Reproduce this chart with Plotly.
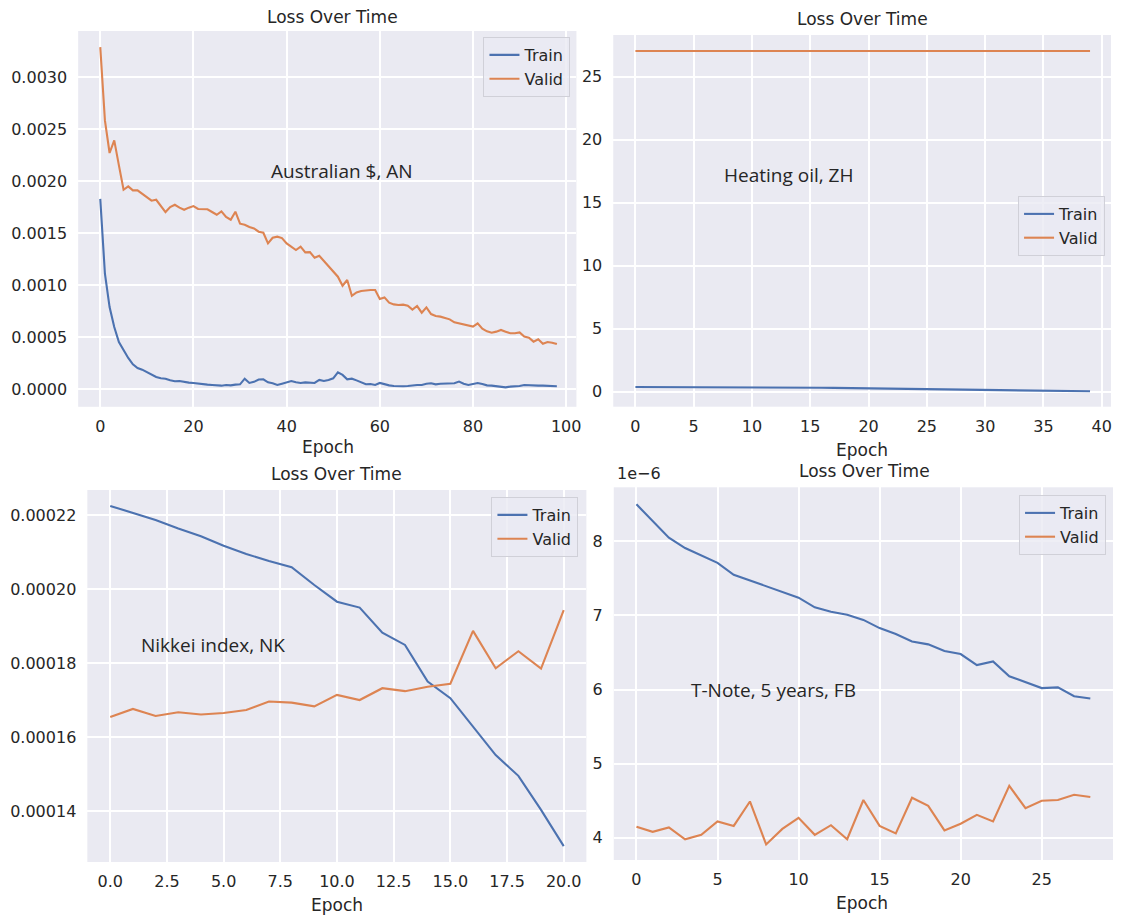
import plotly.graph_objects as go

# ---------------- data ----------------
aus_epochs = list(range(99))
aus_train = [0.001830, 0.001110, 0.000790, 0.000598, 0.000454, 0.000374, 0.000301, 0.000240, 0.000205, 0.000189,
             0.000166, 0.000141, 0.000118, 0.000106, 0.000102, 0.000086, 0.000077, 0.000080, 0.000070, 0.000064,
             0.000061, 0.000054, 0.000051, 0.000045, 0.000042, 0.000038, 0.000035, 0.000042, 0.000038, 0.000045,
             0.000048, 0.000102, 0.000061, 0.000072, 0.000094, 0.000096, 0.000067, 0.000058, 0.000042, 0.000054,
             0.000064, 0.000080, 0.000067, 0.000061, 0.000067, 0.000061, 0.000061, 0.000090, 0.000080, 0.000090,
             0.000106, 0.000163, 0.000138, 0.000096, 0.000102, 0.000086, 0.000067, 0.000048, 0.000051, 0.000042,
             0.000061, 0.000048, 0.000038, 0.000032, 0.000029, 0.000029, 0.000032, 0.000038, 0.000042, 0.000042,
             0.000054, 0.000058, 0.000048, 0.000054, 0.000054, 0.000051, 0.000058, 0.000074, 0.000054, 0.000042,
             0.000051, 0.000061, 0.000051, 0.000038, 0.000035, 0.000032, 0.000026, 0.000019, 0.000026, 0.000026,
             0.000032, 0.000042, 0.000038, 0.000035, 0.000035, 0.000035, 0.000032, 0.000032, 0.000029]
aus_valid = [0.003287, 0.002583, 0.002270, 0.002391, 0.002151, 0.001917, 0.001949, 0.001911, 0.001911, 0.001879,
             0.001847, 0.001812, 0.001821, 0.001760, 0.001703, 0.001751, 0.001773, 0.001745, 0.001725, 0.001745,
             0.001760, 0.001732, 0.001729, 0.001729, 0.001703, 0.001677, 0.001709, 0.001655, 0.001629, 0.001706,
             0.001591, 0.001581, 0.001559, 0.001546, 0.001514, 0.001504, 0.001402, 0.001456, 0.001466, 0.001453,
             0.001402, 0.001370, 0.001338, 0.001370, 0.001315, 0.001318, 0.001264, 0.001283, 0.001235, 0.001178,
             0.001139, 0.001082, 0.000995, 0.001050, 0.000899, 0.000931, 0.000944, 0.000950, 0.000954, 0.000954,
             0.000867, 0.000883, 0.000832, 0.000816, 0.000810, 0.000813, 0.000803, 0.000765, 0.000800, 0.000736,
             0.000787, 0.000723, 0.000704, 0.000698, 0.000682, 0.000672, 0.000643, 0.000634, 0.000618, 0.000614,
             0.000602, 0.000634, 0.000582, 0.000557, 0.000544, 0.000554, 0.000570, 0.000554, 0.000538, 0.000538,
             0.000547, 0.000506, 0.000496, 0.000458, 0.000480, 0.000438, 0.000454, 0.000448, 0.000435]

oil_epochs = list(range(40))
oil_train = [0.37, 0.37, 0.37, 0.37, 0.37, 0.37, 0.37, 0.36, 0.36, 0.36,
             0.36, 0.35, 0.35, 0.34, 0.33, 0.32, 0.31, 0.30, 0.29, 0.28,
             0.27, 0.26, 0.24, 0.23, 0.21, 0.19, 0.18, 0.17, 0.15, 0.14,
             0.13, 0.12, 0.11, 0.10, 0.09, 0.08, 0.07, 0.05, 0.04, 0.03]
oil_valid = [27.03, 27.03, 27.02, 27.03, 27.03, 27.03, 27.03, 27.03, 27.03, 27.02,
             27.03, 27.03, 27.02, 27.02, 27.01, 27.00, 27.01, 27.02, 27.01, 26.99,
             26.98, 27.00, 27.01, 27.02, 27.02, 27.03, 27.03, 27.03, 27.03, 27.02,
             27.02, 27.03, 27.03, 27.03, 27.03, 27.02, 27.03, 27.03, 27.03, 27.03]

nk_epochs = list(range(21))
nk_train = [0.0002225, 0.0002206, 0.0002187, 0.0002164, 0.0002143, 0.0002117, 0.0002095, 0.0002076, 0.0002059, 0.0002011,
            0.0001966, 0.0001950, 0.0001882, 0.0001849, 0.0001750, 0.0001705, 0.0001628, 0.0001551, 0.0001495, 0.0001403,
            0.0001305]
nk_valid = [0.0001654, 0.0001676, 0.0001657, 0.0001667, 0.0001661, 0.0001665, 0.0001673, 0.0001696, 0.0001693, 0.0001683,
            0.0001714, 0.0001700, 0.0001732, 0.0001724, 0.0001736, 0.0001744, 0.0001887, 0.0001786, 0.0001832, 0.0001785,
            0.0001943]

fb_epochs = list(range(29))
fb_train = [8.50e-6, 8.28e-6, 8.05e-6, 7.91e-6, 7.81e-6, 7.71e-6, 7.55e-6, 7.47e-6, 7.39e-6, 7.32e-6,
            7.24e-6, 7.11e-6, 7.05e-6, 7.01e-6, 6.94e-6, 6.83e-6, 6.75e-6, 6.65e-6, 6.61e-6, 6.52e-6,
            6.48e-6, 6.33e-6, 6.38e-6, 6.18e-6, 6.10e-6, 6.02e-6, 6.03e-6, 5.91e-6, 5.88e-6]
fb_valid = [4.15e-6, 4.08e-6, 4.14e-6, 3.98e-6, 4.04e-6, 4.22e-6, 4.16e-6, 4.49e-6, 3.91e-6, 4.12e-6,
            4.27e-6, 4.04e-6, 4.17e-6, 3.98e-6, 4.51e-6, 4.16e-6, 4.06e-6, 4.54e-6, 4.43e-6, 4.10e-6,
            4.19e-6, 4.31e-6, 4.22e-6, 4.70e-6, 4.40e-6, 4.50e-6, 4.51e-6, 4.58e-6, 4.55e-6]

series_names = ["Train", "Valid"]
panel_titles = ["Loss Over Time", "Loss Over Time", "Loss Over Time", "Loss Over Time"]
panel_labels = ["Australian $, AN", "Heating oil, ZH", "Nikkei index, NK", "T-Note, 5 years, FB"]
x_label = "Epoch"

aus_xticks = [0, 20, 40, 60, 80, 100]
aus_yticks = [0.0, 0.0005, 0.0010, 0.0015, 0.0020, 0.0025, 0.0030]
oil_xticks = [0, 5, 10, 15, 20, 25, 30, 35, 40]
oil_yticks = [0, 5, 10, 15, 20, 25]
nk_xticks = [0.0, 2.5, 5.0, 7.5, 10.0, 12.5, 15.0, 17.5, 20.0]
nk_yticks = [0.00014, 0.00016, 0.00018, 0.00020, 0.00022]
fb_xticks = [0, 5, 10, 15, 20, 25]
fb_yticks = [4e-6, 5e-6, 6e-6, 7e-6, 8e-6]
fb_ytext = ["4", "5", "6", "7", "8"]

# ---------------- style ----------------
# the page body keeps its default 8px margin, so the figure is drawn 8px in from the corner
OFF = 8
W, H = 1121 - OFF, 917 - OFF
BLUE = "#4C72B0"
ORANGE = "#DD8452"
BG = "#EAEAF2"
TXT = "#262626"
TICKFONT = dict(family="DejaVu Sans, Verdana, sans-serif", size=16, color=TXT)
TITLEFONT = dict(family="DejaVu Sans, Verdana, sans-serif", size=17, color=TXT)
LABELFONT = dict(family="Open Sans, Noto Sans, sans-serif", size=19, color=TXT)


def px_x(p):
    return (p - OFF) / W


def px_y(p):
    return 1 - (p - OFF) / H


fig = go.Figure()

# panel geometry in page pixels: left, right, top, bottom
panels = [
    dict(name="1", l=78.5, r=579, t=31, b=406.8, xr=[-4.74, 102.2], yr=[-0.000168, 0.003442],
         x=aus_epochs, tr=aus_train, va=aus_valid, xt=aus_xticks, yt=aus_yticks,
         xtt=[str(v) for v in aus_xticks], ytt=["%.4f" % v for v in aus_yticks],
         title=(334, 17), ep=(329, 447), lab=(344, 171), leg=(573, 37)),
    dict(name="2", l=616, r=1116, t=35, b=406.7, xr=[-1.9, 40.8], yr=[-1.19, 28.3],
         x=oil_epochs, tr=oil_train, va=oil_valid, xt=oil_xticks, yt=oil_yticks,
         xtt=[str(v) for v in oil_xticks], ytt=[str(v) for v in oil_yticks],
         title=(866, 19.5), ep=(866, 450), lab=(792, 175), leg=(1110, 196)),
    dict(name="3", l=87.7, r=589, t=490, b=862, xr=[-1.01, 21.0], yr=[0.0001262, 0.0002268],
         x=nk_epochs, tr=nk_train, va=nk_valid, xt=nk_xticks, yt=nk_yticks,
         xtt=["%.1f" % v for v in nk_xticks], ytt=["%.5f" % v for v in nk_yticks],
         title=(338, 474), ep=(338, 905), lab=(214, 645), leg=(581, 497)),
    dict(name="4", l=616.5, r=1118, t=487.3, b=860, xr=[-1.4, 29.4], yr=[3.70e-6, 8.73e-6],
         x=fb_epochs, tr=fb_train, va=fb_valid, xt=fb_xticks, yt=fb_yticks,
         xtt=[str(v) for v in fb_xticks], ytt=fb_ytext,
         title=(868, 471), ep=(866, 903), lab=(777, 690), leg=(1111, 495)),
]

layout_updates = {}
annotations = []
for i, p in enumerate(panels):
    n = p["name"]
    xa = "x" if n == "1" else "x" + n
    ya = "y" if n == "1" else "y" + n
    leg = "legend" if n == "1" else "legend" + n
    for nm, vals, col in zip(series_names, [p["tr"], p["va"]], [BLUE, ORANGE]):
        fig.add_trace(go.Scatter(x=p["x"], y=vals, mode="lines", name=nm,
                                 line=dict(color=col, width=2.1),
                                 xaxis=xa, yaxis=ya, legend=leg, showlegend=True))
    xkey = "xaxis" if n == "1" else "xaxis" + n
    ykey = "yaxis" if n == "1" else "yaxis" + n
    layout_updates[xkey] = dict(domain=[px_x(p["l"]), px_x(p["r"])], range=p["xr"], anchor=ya,
                                tickmode="array", tickvals=p["xt"], ticktext=p["xtt"],
                                showgrid=True, gridcolor="white", gridwidth=1.6, zeroline=False,
                                showline=False, ticks="", tickfont=TICKFONT, ticklabelstandoff=8)
    layout_updates[ykey] = dict(domain=[px_y(p["b"]), px_y(p["t"])], range=p["yr"], anchor=xa,
                                tickmode="array", tickvals=p["yt"], ticktext=p["ytt"],
                                showgrid=True, gridcolor="white", gridwidth=1.6, zeroline=False,
                                showline=False, ticks="", tickfont=TICKFONT, ticklabelstandoff=10)
    layout_updates[leg] = dict(x=px_x(p["leg"][0]), y=px_y(p["leg"][1]), xanchor="right", yanchor="top",
                               xref="paper", yref="paper",
                               bgcolor="rgba(234,234,242,0.8)", bordercolor="#D0D0D8", borderwidth=1,
                               font=dict(family="DejaVu Sans, Verdana, sans-serif", size=16, color=TXT),
                               tracegroupgap=0, itemwidth=30)
    annotations.append(dict(text=panel_titles[i], x=px_x(p["title"][0]), y=px_y(p["title"][1]),
                            xref="paper", yref="paper", showarrow=False, font=TITLEFONT,
                            xanchor="center", yanchor="middle"))
    annotations.append(dict(text=x_label, x=px_x(p["ep"][0]), y=px_y(p["ep"][1]),
                            xref="paper", yref="paper", showarrow=False, font=TITLEFONT,
                            xanchor="center", yanchor="middle"))
    annotations.append(dict(text=panel_labels[i], x=px_x(p["lab"][0]), y=px_y(p["lab"][1]),
                            xref="paper", yref="paper", showarrow=False, font=LABELFONT,
                            xanchor="center", yanchor="middle"))

annotations.append(dict(text="1e\u22126", x=px_x(618), y=px_y(473), xref="paper", yref="paper",
                        showarrow=False, font=TICKFONT, xanchor="left", yanchor="middle"))

fig.update_layout(width=W, height=H, margin=dict(l=0, r=0, t=0, b=0),
                  paper_bgcolor="white", plot_bgcolor=BG, annotations=annotations,
                  **layout_updates)

fig.write_html("out.html")
